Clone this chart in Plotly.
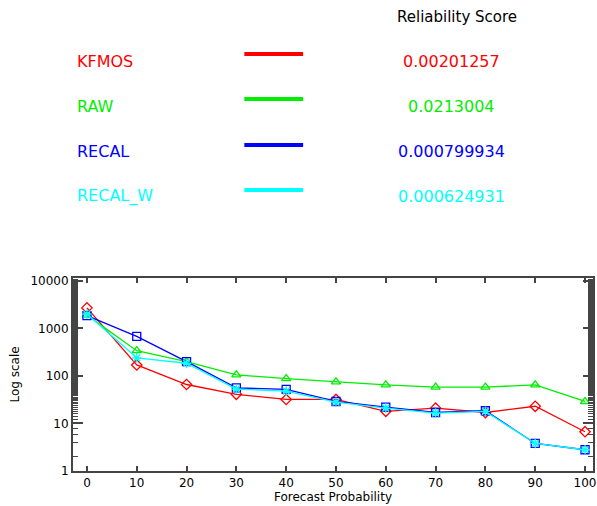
import plotly.graph_objects as go

prob = [0, 10, 20, 30, 40, 50, 60, 70, 80, 90, 100]
kfmos = [2700, 170, 66, 41, 32, 32, 18, 21, 17, 23, 6.7]
raw = [1900, 340, 200, 105, 88, 75, 65, 58, 58, 65, 29]
recal = [1850, 680, 200, 56, 52, 29, 22, 17, 18.5, 3.8, 2.8]
recal_w = [2000, 240, 185, 53, 48, 28, 21, 16.5, 18, 3.8, 2.8]

names = ["KFMOS", "RAW", "RECAL", "RECAL_W"]
scores = ["0.00201257", "0.0213004", "0.000799934", "0.000624931"]
colors = ["#ff0000", "#00ee00", "#0000ff", "#00ffff"]
symbols = ["diamond-open", "triangle-up-open", "square-open", "asterisk-open"]
series = [kfmos, raw, recal, recal_w]

xticks = [0, 10, 20, 30, 40, 50, 60, 70, 80, 90, 100]
yticks = [1, 10, 100, 1000, 10000]
ytext = ["1", "10", "100", "1000", "10000"]

FONT = "DejaVu Sans"
AX = "#444444"

fig = go.Figure()
for n, c, s, v in zip(names, colors, symbols, series):
    fig.add_trace(go.Scatter(
        x=prob, y=v, mode="lines+markers", name=n,
        line=dict(color=c, width=1.3),
        marker=dict(symbol=s, size=8, color=c, line=dict(color=c, width=1.3)),
    ))

H = 506.0
W = 597.0
L, R, T, B = 73, 2, 278, 35
pw = W - L - R
ph = H - T - B
def px(x):
    return (x - L) / pw
def py(y):
    return (H - B - y) / ph

fig.add_annotation(x=px(458), y=py(17), xref="paper", yref="paper", text="Reliability Score",
                   showarrow=False, font=dict(family=FONT, size=15, color="black"),
                   xanchor="center", yanchor="middle")
rows_text = [61, 106, 151, 196]
rows_line = [54, 99, 145, 190]
for i, (n, c, sc) in enumerate(zip(names, colors, scores)):
    fig.add_annotation(x=px(75), y=py(rows_text[i]), xref="paper", yref="paper", text=n,
                       showarrow=False, font=dict(family=FONT, size=16, color=c),
                       xanchor="left", yanchor="middle")
    fig.add_annotation(x=px(453), y=py(rows_text[i]), xref="paper", yref="paper", text=sc,
                       showarrow=False, font=dict(family=FONT, size=16, color=c),
                       xanchor="center", yanchor="middle")
    fig.add_shape(type="line", xref="paper", yref="paper",
                  x0=px(245), x1=px(304), y0=py(rows_line[i]), y1=py(rows_line[i]),
                  line=dict(color=c, width=4))

fig.update_layout(
    width=597, height=506,
    margin=dict(l=L, r=R, t=T, b=B),
    paper_bgcolor="white", plot_bgcolor="white",
    showlegend=False,
    font=dict(family=FONT, size=12, color="black"),
)
fig.update_xaxes(
    range=[-2.8, 101.6], tickvals=xticks, ticks="inside", ticklen=5, tickwidth=1.5,
    tickcolor=AX, showline=True, linecolor=AX, linewidth=2, mirror="ticks",
    showgrid=False, zeroline=False, tickfont=dict(family=FONT, size=12),
    title=dict(text="Forecast Probability", font=dict(family=FONT, size=12), standoff=2),
)
fig.update_yaxes(
    type="log", range=[0, 4.06], tickvals=yticks, ticktext=ytext,
    ticks="inside", ticklen=10, tickwidth=1.5, tickcolor=AX,
    showline=True, linecolor=AX, linewidth=2,
    mirror="ticks", showgrid=False, zeroline=False, tickfont=dict(family=FONT, size=12),
    minor=dict(ticks="inside", ticklen=5, tickwidth=1, showgrid=False, tickcolor=AX),
    title=dict(text="Log scale", font=dict(family=FONT, size=12), standoff=8),
)

fig.write_html("out.html")
